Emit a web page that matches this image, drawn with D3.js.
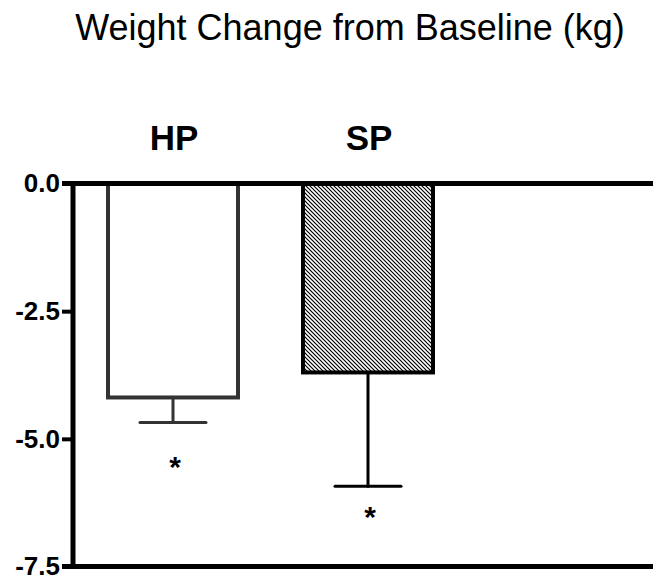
<!DOCTYPE html>
<html>
<head>
<meta charset="utf-8">
<script src="https://cdn.jsdelivr.net/npm/d3@7"></script>
<style>
  body { margin: 0; background: #fff; }
  svg { display: block; font-family: "Liberation Sans", Arial, sans-serif; }
</style>
</head>
<body>
<svg class="chart" width="653" height="586"></svg>
<script>
const groups = ["HP", "SP"];
const means = [-4.19, -3.70];
const sems = [0.49, 2.23];
const starAt = [-5.45, -6.43]; // where the * marks sit
const yTicks = [0.0, -2.5, -5.0, -7.5];

const width = 653, height = 586;
const svg = d3.select(".chart");

const y = d3.scaleLinear().domain([0, -7.5]).range([183.5, 566.5]);
const x = d3.scaleBand().domain(groups).range([108, 433]).paddingInner(1 / 3).paddingOuter(0);

// hatch pattern for SP
const defs = svg.append("defs");
defs.append("pattern")
    .attr("id", "hatch")
    .attr("patternUnits", "userSpaceOnUse")
    .attr("width", 4).attr("height", 4)
  .append("path")
    .attr("d", "M-1,-1 L5,5 M-1,3 L1,5 M3,-1 L5,1")
    .attr("stroke", "#000")
    .attr("stroke-width", 1.2);

svg.append("text")
    .attr("x", 350).attr("y", 40)
    .attr("text-anchor", "middle")
    .attr("font-size", 36)
    .text("Weight Change from Baseline (kg)");

// bars
const fills = ["#fff", "url(#hatch)"];
const strokes = ["#333", "#000"];
svg.selectAll(".bar")
  .data(groups)
  .enter().append("rect")
    .attr("class", "bar")
    .attr("x", d => x(d))
    .attr("y", y(0))
    .attr("width", x.bandwidth())
    .attr("height", (d, i) => y(means[i]) - y(0))
    .attr("fill", (d, i) => fills[i])
    .attr("stroke", (d, i) => strokes[i])
    .attr("stroke-width", 4);

// error bars
const err = svg.selectAll(".err").data(groups).enter().append("g")
    .attr("stroke", (d, i) => strokes[i])
    .attr("stroke-width", 3)
    .attr("stroke-linecap", "round");
err.append("line")
    .attr("x1", d => x(d) + x.bandwidth() / 2)
    .attr("x2", d => x(d) + x.bandwidth() / 2)
    .attr("y1", (d, i) => y(means[i]) + 2)
    .attr("y2", (d, i) => y(means[i] - sems[i]));
err.append("line")
    .attr("x1", d => x(d) + x.bandwidth() / 2 - 33)
    .attr("x2", d => x(d) + x.bandwidth() / 2 + 33)
    .attr("y1", (d, i) => y(means[i] - sems[i]))
    .attr("y2", (d, i) => y(means[i] - sems[i]));

// significance stars
svg.selectAll(".star").data(groups).enter().append("text")
    .attr("x", d => x(d) + x.bandwidth() / 2 + 2)
    .attr("y", (d, i) => y(starAt[i]) + 15)
    .attr("text-anchor", "middle")
    .attr("font-size", 30)
    .attr("font-weight", "bold")
    .text("*");

// group labels
svg.selectAll(".lab").data(groups).enter().append("text")
    .attr("x", d => x(d) + x.bandwidth() / 2 + 1)
    .attr("y", 150)
    .attr("text-anchor", "middle")
    .attr("font-size", 35)
    .attr("font-weight", "bold")
    .text(d => d);

// axes
const yAxis = svg.append("g")
    .attr("transform", "translate(73,0)")
    .call(d3.axisLeft(y).tickValues(yTicks).tickFormat(d => d.toFixed(1)).tickSize(11).tickPadding(2));
yAxis.select(".domain").remove();
yAxis.attr("font-size", null).attr("font-family", null);
yAxis.selectAll(".tick line").attr("stroke", "#000").attr("stroke-width", 4);
yAxis.selectAll(".tick text")
    .attr("font-size", 26).attr("font-weight", "bold")
    .attr("fill", "#000");

svg.append("line")
    .attr("x1", 73).attr("x2", 73)
    .attr("y1", y(0) - 2).attr("y2", y(-7.5) + 2)
    .attr("stroke", "#000").attr("stroke-width", 5);
[0, -7.5].forEach(v => {
  svg.append("line")
      .attr("x1", 62).attr("x2", width)
      .attr("y1", y(v)).attr("y2", y(v))
      .attr("stroke", "#000").attr("stroke-width", 5);
});
</script>
</body>
</html>
